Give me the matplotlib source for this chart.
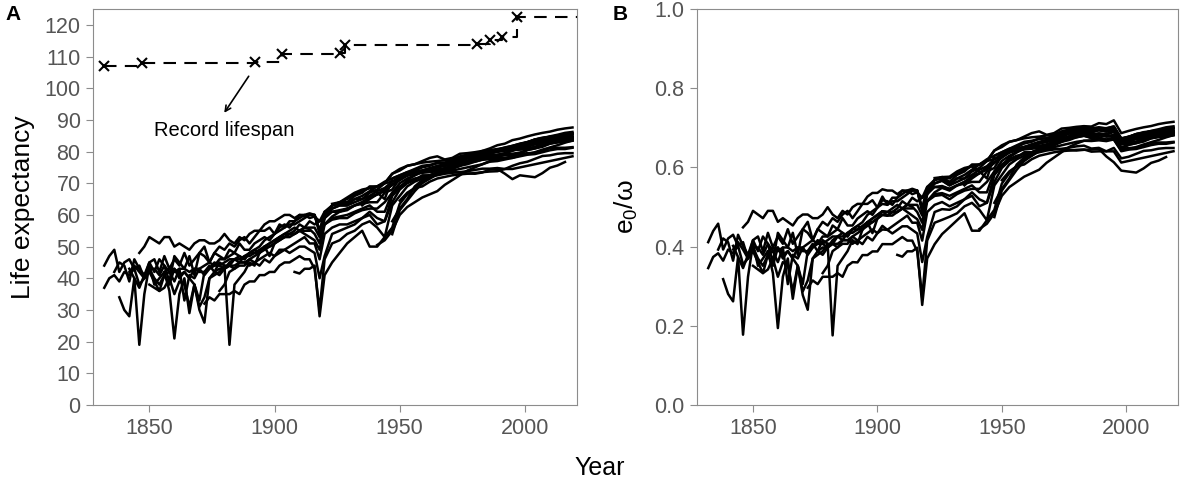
import numpy as np
import matplotlib.pyplot as plt
from matplotlib.ticker import FormatStrFormatter

plt.rcParams['font.family'] = ['Liberation Sans', 'DejaVu Sans']

# year grids: every 2 years up to 1920, every 3 years after
YEARS_EARLY = list(range(1832, 1921, 2))
YEARS_LATE = list(range(1923, 2020, 3))
nan = np.nan

# record lifespan
RECORD_YEARS = [1832, 1847, 1892, 1903, 1926, 1928, 1981, 1986, 1991, 1997]
RECORD_AGES = [107.0, 108.1, 108.3, 110.8, 111.2, 113.6, 113.9, 115.2, 116.3, 122.5]

# female life expectancy, long series (1832-1920 by 2 yrs, then 1923-2019 by 3 yrs)
sweden = [44, 47, 49, 42, 45, 46, 43, 44, 40, 45, 42, 46, 44, 39, 47,
          45, 43, 47, 41, 48, 50, 45, 48, 50, 49, 51, 50, 52, 53, 51,
          53, 55, 55, 56, 54, 57, 56, 58, 58, 60, 59.5, 60, 60, 54, 59,
          63, 63.5, 63.5, 65, 66, 67.5, 69, 70.5, 71.5, 72.5,
          73.5, 74, 75, 75.5, 76.5, 76.5, 77.3, 78, 78.8, 78.9,
          79.6, 80.1, 80.5, 80.8, 81.6, 81.9, 82.1, 82.7, 83.0, 83.5,
          83.8, 84.1, 84.7]
denmark = [nan, nan, 42, 45, 44, 39, 46, 43, 41, 45, 46, 42, 47, 43, 46,
           44, 48, 44, 46, 48, 47, 45, 48, 47, 46, 49, 48, 51, 49, 49,
           51, 52, 53, 52, 54, 56, 57, 56, 58, 59, 60, 59, 59.5, 58, 61,
           62, 63, 63, 64, 65, 66, 67.5, 68.5, 70.5, 71.5,
           72.5, 73.2, 73.8, 74.5, 75, 75.5, 75.8, 76.3, 77, 77.3,
           77.5, 77.6, 77.9, 77.9, 78, 78.8, 79.2, 79.8, 80.6, 81.3,
           82, 82.8, 83.5]
france = [37, 40, 41, 39, 42, 41, 43, 38, 40, 42, 39, 36, 41, 38, 43,
          40, 42, 40, 38, 33, 42, 44, 42, 41, 43, 44, 43, 45, 45, 44,
          45, 46, 47, 48, 47, 49, 49, 50, 51, 52, 53, 51, 51, 46, 54,
          56, 57, 57, 58, 59, 61, 59, 58, 66, 68.5,
          71, 72.5, 73.8, 74.5, 75.2, 75.5, 76.2, 77, 77.8, 78.5,
          79.3, 79.7, 80.6, 81.3, 81.8, 82.4, 82.9, 83.8, 84.4, 84.7,
          85.0, 85.3, 85.6]
iceland = [nan, nan, nan, 34, 30, 28, 40, 19, 35, 44, 38, 40, 42, 36, 21,
           35, 40, 29, 38, 30, 26, 40, 42, 45, 44, 19, 38, 40, 42, 45,
           44, 48, 50, 47, 51, 52, 53, 54, 55, 57, 56, 58, 57, 58, 59,
           62, 63, 63, 65, 65, 67, 68, 70, 73, 74,
           75.5, 76, 77, 78, 78.5, 77.5, 78, 79.3, 79.5, 79.8,
           80.2, 80.3, 80.5, 81, 80.5, 81.5, 82.5, 83, 83, 83.9,
           83.8, 83.9, 84.5]
norway = [nan, nan, nan, nan, nan, nan, nan, 48, 50, 53, 52, 51, 53, 53, 50,
          51, 50, 49, 51, 52, 52, 51, 51, 52, 54, 52, 51, 53, 52, 54,
          55, 55, 57, 58, 58, 59, 60, 60, 59, 60, 60, 60.5, 60, 55, 60,
          63, 64, 64, 66, 67, 69, 69, 70, 73, 74.5,
          75.5, 76, 76.5, 76.8, 77, 77.3, 77.5, 78.5, 79, 79.2,
          79.6, 79.8, 79.9, 80.3, 80.9, 81.3, 81.5, 82.3, 82.7, 83.2,
          83.7, 84.1, 84.6]
belgium = [nan, nan, nan, nan, nan, 43, 40, 37, 41, 43, 40, 38, 41, 42, 39,
           43, 33, 41, 40, 43, 41, 43, 45, 44, 43, 45, 46, 45, 47, 48,
           49, 48, 50, 51, 52, 53, 53, 54, 54, 55, 55, 55, nan, nan, 57,
           59, 59.5, 60, 61, 62, 63, 61, 61, 67, 70,
           71.5, 72.5, 73.5, 74, 74.3, 74.8, 75.5, 76, 76.5, 76.8,
           77.5, 78.3, 79, 79.5, 80.5, 80.8, 81, 81.5, 82.5, 82.7,
           83, 83.8, 84.2]
england = [nan, nan, nan, nan, nan, 42, 44, 42, 40, 43, 43, 41, 44, 42, 43,
           41, 42, 40, 43, 43, 44, 45, 44, 46, 46, 47, 48, 47, 46, 48,
           48, 49, 50, 50, 51, 53, 54, 55, 56, 55, 56, 55.5, 54, 51, 59,
           61, 61.5, 62, 63, 63.5, 64, 64, 67, 68, 71.5,
           72.5, 73, 73.5, 74, 74.3, 74.5, 75, 75.5, 76, 76.8,
           77.4, 77.8, 78.4, 79, 79.3, 79.7, 80.5, 81, 81.8, 82.5,
           82.9, 83.1, 83.4]
netherlands = [nan, nan, nan, nan, nan, nan, nan, nan, nan, 38, 37, 36, 37, 40, 35,
               39, 38, 31, 38, 31, 34, 40, 41, 42, 44, 44, 46, 47, 46, 48,
               49, 50, 52, 53, 54, 55, 56, 57, 57, 58, 59, 60, 60, 55, 61,
               63, 64, 65.5, 67, 68, 68.5, 67, 65, 71.5, 72.5,
               73.5, 74.5, 75.5, 75.8, 76.3, 76.5, 77, 78, 79, 79.2,
               79.7, 80, 80.2, 80.3, 80.5, 80.6, 80.8, 81.3, 82.2, 82.8,
               83.2, 83.2, 83.6]
italy = [nan] * 20 + [
         32, 34, 33, 35, 35, 35, 36, 35, 38, 39,
         39, 41, 41, 42, 42, 44, 45, 45, 46, 47, 46, 46, 43, 30, 46,
         51, 52, 54, 55, 57, 58, 56, 53, 63, 66,
         69, 70.5, 71.5, 72.5, 73, 73.8, 74.5, 75.5, 76.5, 77.5,
         78.5, 79.5, 80.3, 80.9, 81.4, 82.1, 82.9, 83.8, 84.2, 84.6,
         84.8, 85.2, 85.7]
finland = [nan] * 23 + [
           36, 38, 42, 43, 44, 44, 46,
           45, 44, 46, 45, 47, 48, 49, 48, 49, 50, 50, 49, 48, 40, 47,
           54, 55, 56, 57, 59, 60, 57, 58, 64, 68,
           70, 71, 72.5, 72.5, 73.5, 74.3, 75, 76.5, 77, 78,
           78.5, 78.8, 79, 79.4, 80.2, 81, 81.5, 82.5, 83, 83.2,
           83.7, 84.2, 84.7]
switzerland = [nan] * 22 + [
               42, 43, 43, 44, 44, 45, 45, 46,
               47, 48, 49, 50, 51, 52, 53, 53, 54, 55, 56, 56, 56, 53, 57,
               59.5, 61, 62, 63, 64, 65.5, 66.5, 68, 69.5, 71,
               72.5, 73.5, 74, 74.8, 75.5, 76, 76.5, 77.5, 78.5, 79,
               79.8, 80.5, 80.8, 81.2, 81.8, 82.5, 83, 83.8, 84.2, 84.6,
               85, 85.2, 85.6]
scotland = [nan] * 12 + [
            42, 43, 42,
            43, 43, 42, 43, 42, 42, 43, 44, 44, 45, 46, 46, 46, 47, 47,
            48, 48, 50, 51, 52, 53, 54, 54, 54, 55, 54, 53, 52, 49, 57,
            58.5, 59, 59, 60.5, 61.5, 62, 62, 64, 67, 69,
            70.5, 71.5, 72, 72.5, 73, 73.5, 74, 74.5, 75, 75.5,
            76, 76.8, 77, 77.5, 78, 78.5, 79, 79.2, 79.8, 80.4,
            80.8, 80.8, 81.2]
spain = [nan] * 38 + [
         42, 41.5, 43, 43, 44, 28, 41,
         45, 48, 51, 53, 55, 50, 50, 53, 56, 63.5,
         66.5, 68.5, 70.5, 71.5, 72.8, 73.5, 74.8, 76, 77, 78.5,
         79, 79.6, 80, 80.7, 81.6, 82.3, 83, 83.5, 84.1, 84.8,
         85.3, 85.9, 86.2]

# later series (1923-2019 by 3 yrs)
japan = [nan] * 8 + [53.9, 61.5, 64.5, 67.5, 70, 71.5, 73, 74.5, 75.5, 76.8,
                     78, 79, 80.2, 81, 82, 82.5, 83.6, 84.1, 84.8, 85.4,
                     85.9, 86.3, 86.9, 87.3, 87.6]
russia = [nan] * 12 + [71.5, 72.5, 73.0, 73.5, 73.6, 73.3, 73.1, 73.0, 73.4, 74.3,
                       74.5, 73.0, 71.3, 72.5, 72.2, 71.9, 73.2, 74.9, 75.6, 76.7, nan]
usa = [nan] * 4 + [63, 65, 66.5, 67.5, 69.5, 71.3, 72.5, 73, 73.3, 73.5,
                   73.8, 74.1, 74.8, 75.9, 76.8, 77.5, 78, 78.3, 78.5, 78.8,
                   78.9, 79.2, 79.5, 79.6, 80.2, 81.1, 81.2, 81.2, 81.4]
canada = [61, 61, 61.5, 63, 64, 65.5, 66.5, 68, 69.5, 71, 72.5, 73.5, 74, 74.5, 75,
          75.8, 76.5, 77, 78, 78.8, 79.5, 80, 80.5, 80.8, 81.2, 81.5, 82, 82.3,
          82.8, 83.3, 83.7, 84, 84.3]
australia = [63.5, 64, 65, 66.5, 67.5, 68.5, 69, 70, 70.5, 72, 73, 73.5, 74, 74.5, 74.2,
             74.3, 74.8, 75.5, 77, 78.1, 78.8, 79.2, 80, 80.4, 81, 81.7, 82.4, 83,
             83.6, 84, 84.4, 84.6, 85]
portugal = [nan] * 6 + [50.5, 52, 55, 60, 62.5, 64, 65.5, 66.5, 67.5, 69.5, 71, 72.5,
                        74, 75, 76, 77, 77.5, 78, 78.5, 79.2, 80.5, 81, 81.5, 82.5,
                        83, 83.5, 84]
hungary = [nan] * 9 + [64.5, 67, 68.5, 69, 70.5, 71.5, 72, 72.5, 72.8, 73, 73.2, 73.5,
                       73.7, 73.8, 74.5, 75.5, 76.3, 76.8, 77.7, 78.6, 78.8, 79.3,
                       79.5, 79.5]
bulgaria = [nan] * 8 + [58, 62, 65, 69, 71, 72, 72.5, 73, 73.3, 73.5, 73.8, 74.2,
                        74.6, 74.6, 74.8, 74.5, 74.5, 75, 75.5, 76, 76.5, 77, 77.5,
                        78, 78.5]

long_series = [sweden, denmark, france, iceland, norway, belgium, england,
               netherlands, italy, finland, switzerland, scotland, spain]
late_series = [japan, russia, usa, canada, australia, portugal, hungary, bulgaria]

years_all = np.array(YEARS_EARLY + YEARS_LATE)
years_late = np.array(YEARS_LATE)


def omega(yrs):
    idx = np.searchsorted(RECORD_YEARS, yrs, side='right') - 1
    return np.array(RECORD_AGES)[idx]


fig = plt.figure(figsize=(11.8, 4.86), dpi=100)
axA = fig.add_axes([93 / 1180, 81 / 486, 484 / 1180, 396 / 486])
axB = fig.add_axes([697 / 1180, 81 / 486, 481 / 1180, 396 / 486])

lw = 1.8
for s in long_series:
    e0 = np.array(s, dtype=float)
    axA.plot(years_all, e0, color='black', lw=lw)
    axB.plot(years_all, e0 / omega(years_all), color='black', lw=lw)
for s in late_series:
    e0 = np.array(s, dtype=float)
    axA.plot(years_late, e0, color='black', lw=lw)
    axB.plot(years_late, e0 / omega(years_late), color='black', lw=lw)

# record lifespan, extended to the right edge
rx = RECORD_YEARS + [2021]
ry = RECORD_AGES + [RECORD_AGES[-1]]
axA.plot(rx, ry, color='black', lw=1.5, ls=(0, (6, 4)), drawstyle='steps-post')
axA.plot(RECORD_YEARS, RECORD_AGES, ls='none', marker='x', ms=7, mew=1.5, color='black')
axA.annotate('', xy=(1879.3, 91.5), xytext=(1890.3, 104.5),
             arrowprops=dict(arrowstyle='->', color='black', lw=1.2))
axA.text(1880, 86.5, 'Record lifespan', ha='center', va='center', fontsize=14.5)

for ax in (axA, axB):
    ax.set_xlim(1827.5, 2020.8)
    ax.set_xticks([1850, 1900, 1950, 2000])
    for sp in ax.spines.values():
        sp.set_color('#8c8c8c')
    ax.tick_params(direction='out', length=5, color='#8c8c8c', labelcolor='#555555',
                   labelsize=15.5, pad=4)

axA.set_ylim(0, 125)
axA.set_yticks(range(0, 121, 10))
axA.set_ylabel('Life expectancy', fontsize=19, labelpad=7)
axB.set_ylim(0, 1)
axB.set_yticks(np.arange(0, 1.01, 0.2))
axB.yaxis.set_major_formatter(FormatStrFormatter('%.1f'))
axB.set_ylabel(r'$\mathregular{e_0/\omega}$', fontsize=19, labelpad=10)

fig.text(5 / 1180, 1 - 15 / 486, 'A', fontsize=15, fontweight='bold', va='center')
fig.text(613 / 1180, 1 - 15 / 486, 'B', fontsize=15, fontweight='bold', va='center')
fig.text(600 / 1180, 1 - 468 / 486, 'Year', fontsize=18, ha='center', va='center')

fig.savefig('out.png', dpi=100)
